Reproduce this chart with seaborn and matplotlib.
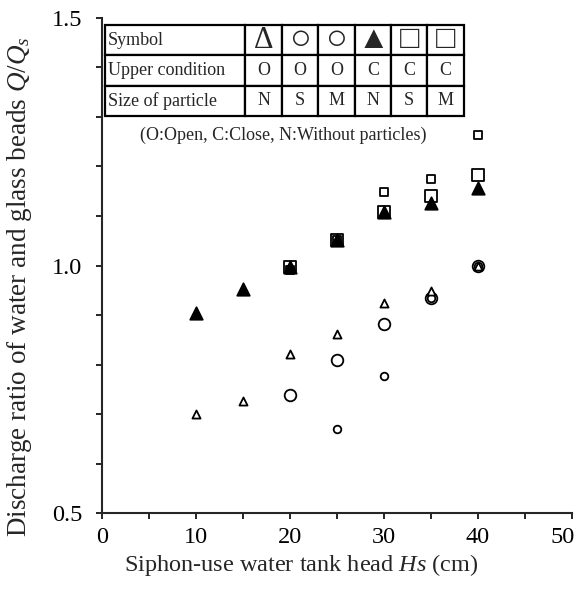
import numpy as np
import pandas as pd
import matplotlib
matplotlib.use("Agg")
import matplotlib.pyplot as plt
import seaborn as sns
from matplotlib.ticker import MultipleLocator
from matplotlib.transforms import ScaledTranslation

# ---------------- data ----------------
hs_all = [10, 15, 20, 25, 30, 35, 40]
open_n = [0.700, 0.727, 0.821, 0.861, 0.924, 0.949, 1.000]          # open triangle
hs_os = [25, 30, 35, 40]
open_s = [0.670, 0.776, 0.934, 1.000]                               # small circle
hs_om = [20, 25, 30, 35, 40]
open_m = [0.739, 0.810, 0.882, 0.934, 1.000]                        # large circle
close_n = [0.904, 0.952, 0.998, 1.052, 1.109, 1.126, 1.156]         # filled triangle
hs_cs = [20, 25, 30, 35, 40]
close_s = [0.991, 1.052, 1.149, 1.174, 1.264]                       # small square
hs_cm = [20, 25, 30, 35, 40]
close_m = [0.998, 1.052, 1.109, 1.141, 1.183]                       # large square

table_rows = ["Symbol", "Upper condition", "Size of particle"]
table_symbols = ["\u0394", "\u25CB", "\u25CB", "\u25B2", "\u25A1", "\u25A1"]
table_upper = ["O", "O", "O", "C", "C", "C"]
table_size = ["N", "S", "M", "N", "S", "M"]
note_text = "(O:Open, C:Close, N:Without particles)"

x_ticks = [0, 10, 20, 30, 40, 50]
y_ticks = [0.5, 1.0, 1.5]

# ---------------- style ----------------
sns.set_style("ticks")
plt.rcParams["font.family"] = ["Liberation Serif", "DejaVu Serif"]
plt.rcParams["mathtext.fontset"] = "custom"
plt.rcParams["mathtext.rm"] = "Liberation Serif"
plt.rcParams["mathtext.it"] = "Liberation Serif:italic"

fig = plt.figure(figsize=(5.76, 5.96), dpi=100)
ax = fig.add_axes([0.177, 0.139, 0.816, 0.831])

def series(xs, ys, name):
    return pd.DataFrame({"Hs": xs, "ratio": ys, "series": name})

df = pd.concat([
    series(hs_all, open_n, "O-N"),
    series(hs_os, open_s, "O-S"),
    series(hs_om, open_m, "O-M"),
    series(hs_all, close_n, "C-N"),
    series(hs_cs, close_s, "C-S"),
    series(hs_cm, close_m, "C-M"),
], ignore_index=True)

styles = {
    "O-N": dict(marker="^", s=34, facecolor="white", edgecolor="black"),
    "O-S": dict(marker="o", s=30, facecolor="white", edgecolor="black"),
    "O-M": dict(marker="o", s=70, facecolor="white", edgecolor="black"),
    "C-N": dict(marker="^", s=80, facecolor="black", edgecolor="black"),
    "C-S": dict(marker="s", s=34, facecolor="white", edgecolor="black"),
    "C-M": dict(marker="s", s=80, facecolor="white", edgecolor="black"),
}
order = ["C-M", "C-S", "C-N", "O-M", "O-S", "O-N"]
for name in order:
    st = styles[name]
    sub = df[df["series"] == name]
    sns.scatterplot(data=sub, x="Hs", y="ratio", ax=ax, marker=st["marker"],
                    s=st["s"], color=st["facecolor"], edgecolor=st["edgecolor"],
                    linewidth=1.3, legend=False, zorder=3)

ax.set_xlim(0, 50)
ax.set_ylim(0.5, 1.5)
ax.set_xticks(x_ticks)
ax.set_xticklabels([str(v) for v in x_ticks])
ax.xaxis.set_minor_locator(MultipleLocator(5))
ax.set_yticks(y_ticks)
ax.set_yticklabels(["0.5", "1.0", "1.5"])
ax.yaxis.set_minor_locator(MultipleLocator(0.1))
ax.tick_params(axis="both", which="both", direction="out", length=4, width=1.2,
               colors="black", labelsize=17.5)
ax.tick_params(axis="y", which="major", pad=10)
ax.tick_params(axis="x", which="major", pad=6)
for sp in ["top", "right"]:
    ax.spines[sp].set_visible(False)
for sp in ["left", "bottom"]:
    ax.spines[sp].set_linewidth(1.5)

# shift the last x tick label so it stays inside the figure
last = ax.get_xticklabels()[-1]
last.set_ha("right")
last.set_transform(last.get_transform() + ScaledTranslation(2 / 72, 0, fig.dpi_scale_trans))

ax.set_xlabel("Siphon-use water tank head $Hs$ (cm)", fontsize=17.5)
ax.set_ylabel("Discharge ratio of water and glass beads $Q/Q_s$", fontsize=19.5)
ax.xaxis.set_label_coords(0.425, -0.078)
ax.yaxis.set_label_coords(-0.145, 0.457)

# ---------------- symbol table ----------------
cell_text = [[table_rows[0]] + table_symbols,
             [table_rows[1]] + table_upper,
             [table_rows[2]] + table_size]
col_w = [0.2985] + [0.0774] * 6
tbl = ax.table(cellText=cell_text, colWidths=col_w, loc="upper left",
               bbox=[0.0065, 0.802, 0.7635, 0.184], cellLoc="center")
tbl.auto_set_font_size(False)
sym_sizes = {"\u0394": 22, "\u25CB": 26, "\u25B2": 23, "\u25A1": 23}
for (r, c), cell in tbl.get_celld().items():
    cell.set_linewidth(1.6)
    cell.set_edgecolor("black")
    cell.set_facecolor("white")
    txt = cell.get_text()
    txt.set_fontsize(13)
    txt.set_family(["Liberation Serif", "DejaVu Sans"])
    if c == 0:
        txt.set_ha("left")
        cell.PAD = 0.02
    if r == 0 and c > 0:
        txt.set_fontsize(sym_sizes[table_symbols[c - 1]])
tbl.set_zorder(5)

ax.text(0.385, 0.762, note_text, transform=ax.transAxes, ha="center",
        va="center", fontsize=13)

fig.savefig("out.png", dpi=100)
